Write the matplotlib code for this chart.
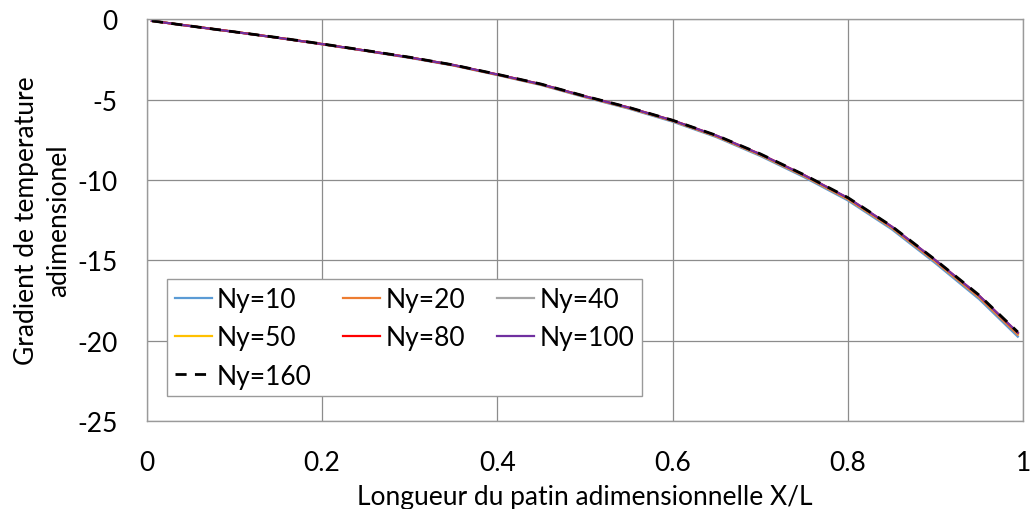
import matplotlib
matplotlib.use("Agg")
import matplotlib.pyplot as plt

plt.rcParams['font.family'] = ['Lato', 'DejaVu Sans']
plt.rcParams['axes.unicode_minus'] = False

x = [0.006, 0.05, 0.1, 0.15, 0.2, 0.25, 0.3, 0.35, 0.4, 0.45, 0.5, 0.55,
     0.6, 0.65, 0.7, 0.75, 0.8, 0.85, 0.9, 0.95, 0.994]

ny10 = [-0.10, -0.43, -0.79, -1.16, -1.56, -1.97, -2.40, -2.88, -3.47, -4.09, -4.85, -5.56,
        -6.37, -7.33, -8.50, -9.82, -11.27, -13.06, -15.18, -17.42, -19.75]
ny20 = [-0.10, -0.42, -0.78, -1.15, -1.55, -1.96, -2.38, -2.86, -3.45, -4.07, -4.82, -5.53,
        -6.33, -7.29, -8.45, -9.76, -11.20, -12.98, -15.09, -17.32, -19.63]
ny40 = [-0.10, -0.42, -0.78, -1.15, -1.54, -1.95, -2.37, -2.85, -3.44, -4.05, -4.80, -5.51,
        -6.31, -7.26, -8.42, -9.72, -11.15, -12.93, -15.03, -17.25, -19.55]
ny50 = [-0.10, -0.42, -0.78, -1.15, -1.54, -1.95, -2.37, -2.85, -3.44, -4.05, -4.80, -5.50,
        -6.30, -7.25, -8.41, -9.71, -11.14, -12.92, -15.02, -17.23, -19.53]
ny80 = [-0.10, -0.42, -0.78, -1.15, -1.54, -1.95, -2.37, -2.85, -3.43, -4.04, -4.79, -5.49,
        -6.29, -7.24, -8.39, -9.69, -11.12, -12.90, -15.00, -17.21, -19.51]
ny100 = [-0.10, -0.42, -0.78, -1.15, -1.54, -1.95, -2.37, -2.84, -3.43, -4.04, -4.79, -5.49,
         -6.29, -7.23, -8.39, -9.69, -11.11, -12.89, -14.99, -17.20, -19.50]
ny160 = [-0.10, -0.42, -0.78, -1.14, -1.53, -1.94, -2.36, -2.84, -3.42, -4.03, -4.78, -5.48,
         -6.28, -7.22, -8.37, -9.67, -11.09, -12.87, -14.97, -17.17, -19.46]

labels = ['Ny=10', 'Ny=20', 'Ny=40', 'Ny=50', 'Ny=80', 'Ny=100', 'Ny=160']
series = [ny10, ny20, ny40, ny50, ny80, ny100, ny160]
colors = ['#5B9BD5', '#ED7D31', '#A5A5A5', '#FFC000', '#FF0000', '#7030A0', '#000000']
styles = ['-', '-', '-', '-', '-', '-', (0, (4, 3))]

xticks = [0, 0.2, 0.4, 0.6, 0.8, 1]
xticklabels = ['0', '0.2', '0.4', '0.6', '0.8', '1']
yticks = [0, -5, -10, -15, -20, -25]

FS = 19

fig = plt.figure(figsize=(10.34, 5.10), dpi=100)
ax = fig.add_axes([0.1419, 0.1725, 0.8475, 0.7877])

handles = []
for ys, lab, c, ls in zip(series, labels, colors, styles):
    h, = ax.plot(x, ys, color=c, linestyle=ls, linewidth=1.6 if ls == '-' else 2.0, label=lab)
    handles.append(h)

ax.set_xlim(0, 1)
ax.set_ylim(-25, 0)
ax.set_xticks(xticks)
ax.set_xticklabels(xticklabels)
ax.set_yticks(yticks)
ax.grid(True, color='#8c8c8c', linewidth=0.9)
ax.set_axisbelow(True)
for s in ax.spines.values():
    s.set_color('#9a9a9a')
    s.set_linewidth(1.0)
ax.tick_params(axis='both', length=0, labelsize=FS, colors='black')
ax.tick_params(axis='x', pad=21)
ax.tick_params(axis='y', pad=21)

ax.set_xlabel('Longueur du patin adimensionnelle X/L', fontsize=FS, labelpad=6)
fig.text(43 / 1034, 1 - 221 / 510, 'Gradient de temperature\nadimensionel',
         rotation=90, ha='center', va='center', fontsize=FS, linespacing=1.35,
         multialignment='center')

# row-major fill for a 3-column legend
order = [0, 3, 6, 1, 4, 2, 5]
leg = ax.legend([handles[i] for i in order], [labels[i] for i in order],
                loc='upper left', bbox_to_anchor=(0.0228, 0.353), ncol=3,
                fontsize=FS, frameon=True, fancybox=False, framealpha=1,
                edgecolor='#9a9a9a', handlelength=1.4, handletextpad=0.2,
                columnspacing=1.2, labelspacing=0.5, borderpad=0.3,
                borderaxespad=0)
leg.get_frame().set_linewidth(1.0)

fig.savefig('out.png', dpi=100)
